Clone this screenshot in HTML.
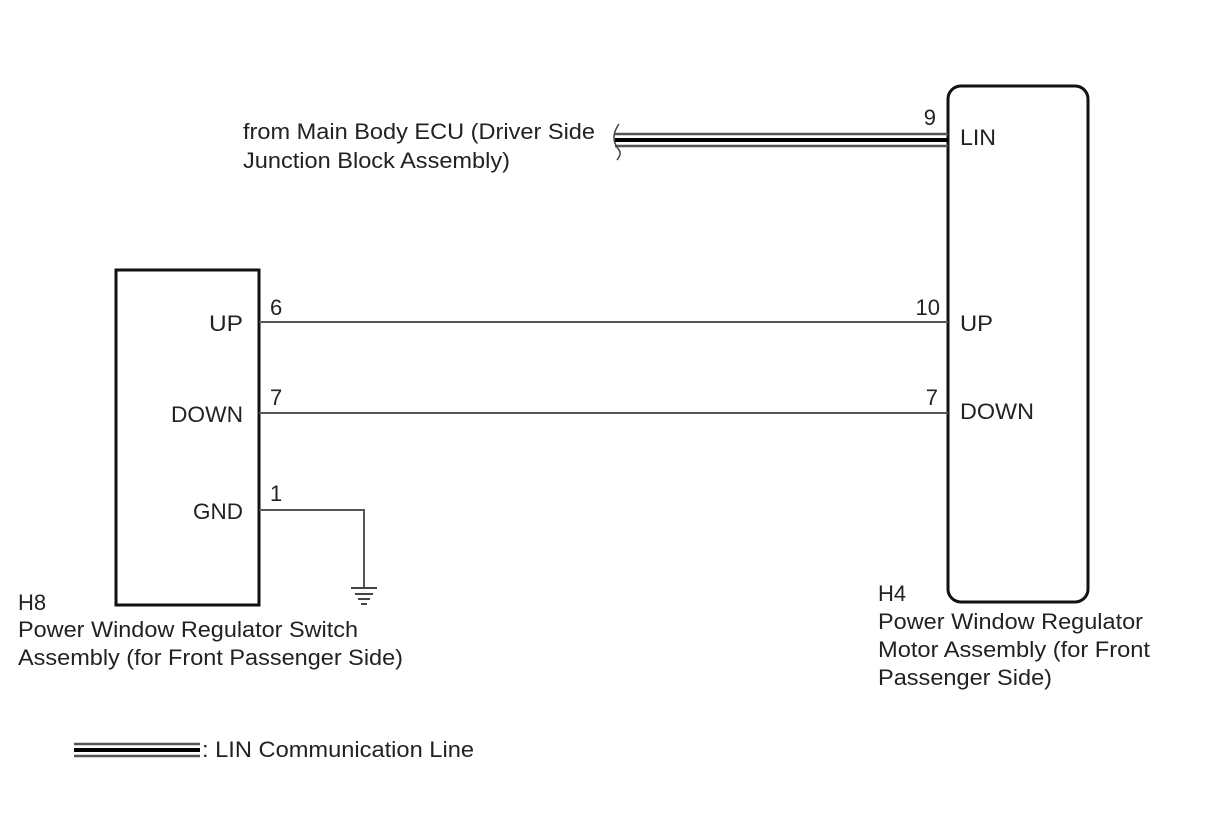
<!DOCTYPE html>
<html><head><style>
body{margin:0;background:#fff}
svg text{font-family:"Liberation Sans",sans-serif;font-size:22px;fill:#222}
</style></head><body>
<svg width="1210" height="814" viewBox="0 0 1210 814">
<rect x="0" y="0" width="1210" height="814" fill="#fff"/>
<rect x="116" y="270" width="143" height="335" fill="none" stroke="#111" stroke-width="3"/>
<rect x="948" y="86" width="140" height="516" rx="13" fill="none" stroke="#111" stroke-width="3"/>
<g stroke="#555" stroke-width="2" fill="none">
<line x1="259" y1="322" x2="948" y2="322"/>
<line x1="259" y1="413" x2="948" y2="413"/>
<polyline points="259,510 364,510 364,588"/>
</g>
<g stroke="#444" stroke-width="2">
<line x1="351" y1="588" x2="377" y2="588"/>
<line x1="355" y1="594" x2="373" y2="594"/>
<line x1="358" y1="599" x2="370" y2="599"/>
<line x1="361" y1="604" x2="367" y2="604"/>
</g>
<g fill="none">
<line x1="615" y1="134" x2="948" y2="134" stroke="#555" stroke-width="2.5"/>
<line x1="615" y1="140" x2="948" y2="140" stroke="#000" stroke-width="4"/>
<line x1="615" y1="146" x2="948" y2="146" stroke="#555" stroke-width="2.5"/>
<path d="M619,124 Q609,138 619,150 Q622,154 617,160" stroke="#444" stroke-width="1.5"/>
<line x1="74" y1="744" x2="200" y2="744" stroke="#555" stroke-width="2.5"/>
<line x1="74" y1="750" x2="200" y2="750" stroke="#000" stroke-width="4"/>
<line x1="74" y1="756" x2="200" y2="756" stroke="#555" stroke-width="2.5"/>
</g>
<g lengthAdjust="spacingAndGlyphs">
<text x="243" y="139" textLength="352" lengthAdjust="spacingAndGlyphs">from Main Body ECU (Driver Side</text>
<text x="243" y="168" textLength="267" lengthAdjust="spacingAndGlyphs">Junction Block Assembly)</text>
<text x="936" y="125" text-anchor="end">9</text>
<text x="960" y="145" textLength="36" lengthAdjust="spacingAndGlyphs">LIN</text>
<text x="209" y="331" textLength="34" lengthAdjust="spacingAndGlyphs">UP</text>
<text x="171" y="422" textLength="72" lengthAdjust="spacingAndGlyphs">DOWN</text>
<text x="193" y="519" textLength="50" lengthAdjust="spacingAndGlyphs">GND</text>
<text x="270" y="315">6</text>
<text x="270" y="405">7</text>
<text x="270" y="501">1</text>
<text x="940" y="315" text-anchor="end">10</text>
<text x="938" y="405" text-anchor="end">7</text>
<text x="960" y="331" textLength="33" lengthAdjust="spacingAndGlyphs">UP</text>
<text x="960" y="419" textLength="74" lengthAdjust="spacingAndGlyphs">DOWN</text>
<text x="18" y="610">H8</text>
<text x="18" y="637" textLength="340" lengthAdjust="spacingAndGlyphs">Power Window Regulator Switch</text>
<text x="18" y="665" textLength="385" lengthAdjust="spacingAndGlyphs">Assembly (for Front Passenger Side)</text>
<text x="878" y="601">H4</text>
<text x="878" y="629" textLength="265" lengthAdjust="spacingAndGlyphs">Power Window Regulator</text>
<text x="878" y="657" textLength="272" lengthAdjust="spacingAndGlyphs">Motor Assembly (for Front</text>
<text x="878" y="685" textLength="174" lengthAdjust="spacingAndGlyphs">Passenger Side)</text>
<text x="202" y="757" textLength="272" lengthAdjust="spacingAndGlyphs">: LIN Communication Line</text>
</g>
</svg>
</body></html>
